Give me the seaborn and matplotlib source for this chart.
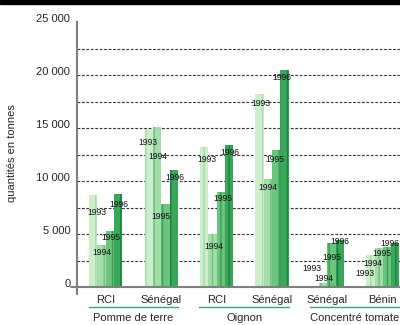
import numpy as np
import pandas as pd
import matplotlib
matplotlib.use("Agg")
import matplotlib.pyplot as plt
import matplotlib.transforms as mtransforms
from matplotlib.patches import Rectangle
import seaborn as sns

# data (tonnes)
products = ["Pomme de terre", "Pomme de terre", "Oignon", "Oignon",
            "Concentré tomate", "Concentré tomate"]
countries = ["RCI", "Sénégal", "RCI", "Sénégal", "Sénégal", "Bénin"]
years = ["1993", "1994", "1995", "1996"]
v1993 = [8700, 14900, 13200, 18200, 150, 3000]
v1994 = [4000, 15100, 5000, 10200, 350, 3700]
v1995 = [5300, 7800, 9000, 12900, 4200, 3800]
v1996 = [8800, 11000, 13400, 20500, 4400, 4200]

# label offsets (dx, dy in pixels below the bar top), per group and year
label_offsets = [
    [(4, 18), (0, 8), (1, 7), (1, 11)],
    [(-1, 13), (1, 30), (-4, 12), (1, 7)],
    [(3, 12), (1, 12), (2, 7), (1, 7)],
    [(1, 9), (0, 9), (-1, 9), (-3, 8)],
    [(-3, -17), (1, -5), (0, 15), (0, 1)],
    [(-5, 18), (-6, 16), (-5, 7), (-5, 1)],
]

colors = ["#cdeecd", "#a4dcaa", "#6cc47e", "#3aa65a"]
stripes = ["#a6dca6", "#6cc27a", "#34a252", "#16843a"]

slots = [f"{p}|{c}" for p, c in zip(products, countries)]
values = {"1993": v1993, "1994": v1994, "1995": v1995, "1996": v1996}
df = pd.DataFrame([(s, y, values[y][i]) for y in years for i, s in enumerate(slots)],
                  columns=["slot", "year", "value"])

sns.set_style("white")
plt.rcParams["font.family"] = ["Liberation Sans", "DejaVu Sans"]
plt.rcParams["hatch.linewidth"] = 1.0

fig = plt.figure(figsize=(4, 3.25), dpi=100)
ax = fig.add_axes([77 / 400, 31 / 325, 323 / 400, 272 / 325])

sns.barplot(data=df, x="slot", y="value", hue="year", order=slots, hue_order=years,
            palette=colors, width=0.6, saturation=1, linewidth=0, legend=False,
            ax=ax, zorder=3)

for k, cont in enumerate(ax.containers):
    for i, bar in enumerate(cont):
        bar.set_hatch("||")
        bar.set_edgecolor(stripes[k])
        bar.set_linewidth(0.01)
        dx, dy = label_offsets[i][k]
        ax.annotate(years[k], (bar.get_x() + bar.get_width() / 2, bar.get_height()),
                    xytext=(dx, -dy), textcoords="offset pixels",
                    ha="center", va="center", fontsize=6.2, color="#111111",
                    zorder=5, annotation_clip=False)

# dashed grid every 2500
for lvl in np.arange(2500, 25000, 2500):
    ax.axhline(lvl, color="#333333", lw=0.8, ls=(0, (2.5, 1.5)), zorder=1)

ax.set_xlim(-0.52, 5.31)
ax.set_ylim(-650, 25000)
yt = np.arange(0, 25001, 5000)
ax.set_yticks(yt, [f"{v:,}".replace(",", " ") for v in yt])
for lbl in ax.get_yticklabels():
    lbl.set_verticalalignment("baseline")
ax.tick_params(axis="y", length=3.8, width=1, color="#555555", pad=1, labelsize=8)
ax.set_xticks(range(len(countries)), countries)
ax.tick_params(axis="x", length=0, pad=0.5, labelsize=8)
ax.set_xlabel("")
ax.set_ylabel("")

for side in ["top", "right", "bottom"]:
    ax.spines[side].set_visible(False)
ax.spines["left"].set_color("#808080")
ax.spines["left"].set_linewidth(1.5)
ax.axhline(0, xmin=-6 / 323, xmax=1, color="#808080", lw=1.5, clip_on=False, zorder=4)

# product names with green underline
trans = mtransforms.blended_transform_factory(ax.transData, ax.transAxes)
for prod in dict.fromkeys(products):
    idx = [i for i, p in enumerate(products) if p == prod]
    x0, x1 = min(idx) - 0.31, max(idx) + 0.31
    ax.plot([x0, x1], [-0.046, -0.046], color="#3aaa6a", lw=1, transform=trans,
            clip_on=False)
    ax.text((min(idx) + max(idx)) / 2, -0.088, prod, transform=trans, ha="center",
            va="center", fontsize=8)

fig.text(12 / 400, 1 - 153 / 325, "quantités en tonnes", rotation=90,
         ha="center", va="center", fontsize=8)
fig.add_artist(Rectangle((0, 1 - 4 / 325), 1, 4 / 325, transform=fig.transFigure,
                         color="black"))

fig.savefig("out.png", dpi=100)
